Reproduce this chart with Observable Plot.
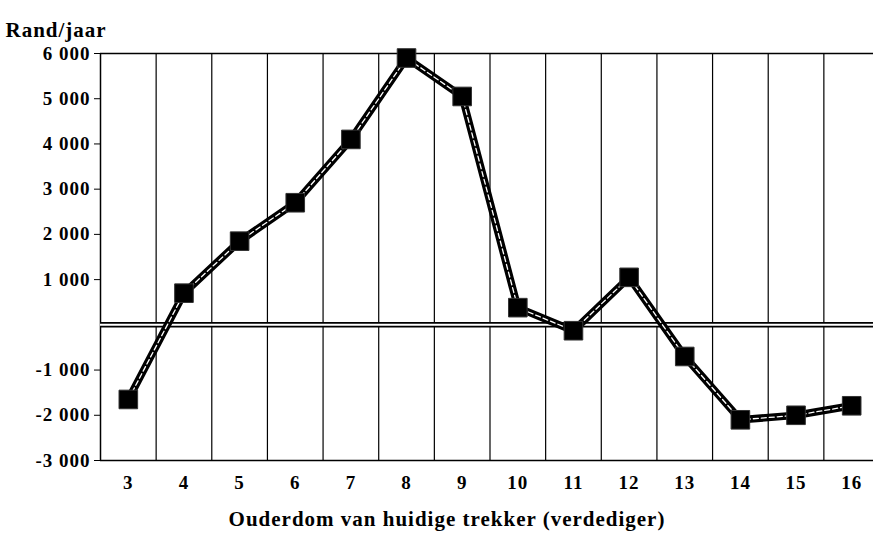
<!DOCTYPE html>
<html><head><meta charset="utf-8">
<script src="https://cdn.jsdelivr.net/npm/d3@7"></script>
<script src="https://cdn.jsdelivr.net/npm/@observablehq/plot@0.6"></script>
<style>body{margin:0;background:#fff} svg{display:block}</style>
</head><body><div id="chart"></div>
<script>
const ages = [3, 4, 5, 6, 7, 8, 9, 10, 11, 12, 13, 14, 15, 16];
const values = [-1650, 700, 1850, 2700, 4100, 5900, 5050, 380, -130, 1050, -700, -2100, -2000, -1790];
const yTicks = [-3000, -2000, -1000, 1000, 2000, 3000, 4000, 5000, 6000];
const yLabel = "Rand/jaar";
const xLabel = "Ouderdom van huidige trekker (verdediger)";

const data = ages.map((a, i) => ({age: a, value: values[i]}));
const bounds = ages.slice(0, -1).map(a => a + 0.5);
const fmt = d => (d < 0 ? "-" : "") + d3.format(",")(Math.abs(d)).replace(/,/g, " ");

const chart = Plot.plot({
  width: 873, height: 535,
  marginLeft: 100, marginTop: 53, marginBottom: 75, marginRight: 0,
  style: {fontFamily: "'Liberation Serif', 'Times New Roman', serif", fontWeight: "bold", fontSize: "20px", color: "#000", background: "#fff", letterSpacing: "1px"},
  x: {domain: [2.5, 16.5], range: [100, 879]},
  y: {domain: [-3000, 6000], range: [460, 53]},
  marks: [
    Plot.ruleX(bounds, {stroke: "#000", strokeWidth: 1.2}),
    Plot.ruleX([2.5], {stroke: "#000", strokeWidth: 1.5}),
    Plot.ruleY([6000, -3000], {stroke: "#000", strokeWidth: 1.5}),
    Plot.ruleY([0], {stroke: "#000", strokeWidth: 5.5}),
    Plot.ruleY([0], {stroke: "#fff", strokeWidth: 2}),
    Plot.axisY({ticks: yTicks, tickFormat: fmt, tickSize: 6, tickPadding: 4, label: null, fontSize: 19}),
    Plot.axisX({ticks: ages, tickSize: 0, tickPadding: 15, label: null, tickFormat: d => String(d), fontSize: 19}),
    Plot.line(data, {x: "age", y: "value", stroke: "#000", strokeWidth: 7.5}),
    Plot.line(data, {x: "age", y: "value", stroke: "#fff", strokeWidth: 1.3, strokeDasharray: "5,3"}),
    Plot.dot(data, {x: "age", y: "value", symbol: "square", r: 10.5, fill: "#000", stroke: "#333", strokeWidth: 1}),
    Plot.text([yLabel], {frameAnchor: "top-left", dx: -95, dy: -31, textAnchor: "start", fontSize: 21}),
    Plot.text([xLabel], {frameAnchor: "bottom", dx: -40, dy: 65, fontSize: 21})
  ]
});
document.getElementById("chart").appendChild(chart);
</script>
</body></html>
